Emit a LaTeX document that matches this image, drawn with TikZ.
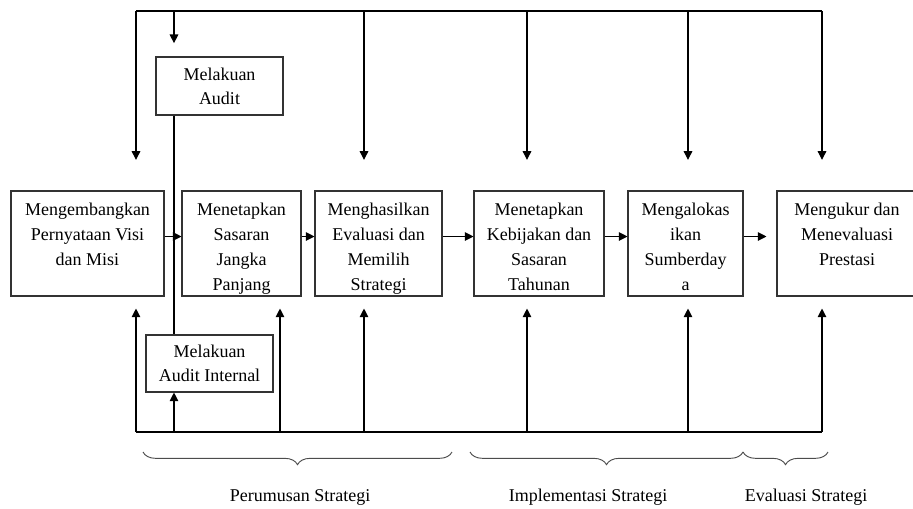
\documentclass[tikz,border=0pt]{standalone}
\usepackage{fontspec}
\setmainfont{Liberation Serif}
\usetikzlibrary{arrows.meta, positioning, decorations.pathreplacing}
\newlength{\pxu}\setlength{\pxu}{0.75pt}
\newcommand{\boxtxt}[3]{\parbox[c][#2\pxu][t]{#1\pxu}{\centering\rule{0pt}{24\pxu}#3}}
\begin{document}
\begin{tikzpicture}[x=0.75pt, y=-0.75pt, line width=0.8pt,
  main/.style = {draw=black!80, inner sep=0pt, font=\fontsize{13.5}{18.75}\selectfont},
  audit/.style = {draw=black!80, align=center, inner sep=0pt, minimum width=95.25pt, minimum height=43.5pt, font=\fontsize{13.5}{18}\selectfont},
  arr/.style = {-{Triangle[length=6.5pt, width=6.5pt]}},
  brc/.style = {draw=black!70, line width=0.7pt, decorate, decoration={brace, mirror, amplitude=9.5pt}},
  lbl/.style = {font=\fontsize{13.5}{16}\selectfont}]
\useasboundingbox (0,0) rectangle (913,508);

\node[main] (1) at (87.5,243.5) {\boxtxt{153}{105}{Mengembangkan\\Pernyataan Visi\\dan Misi}};
\node[main] (2) at (241.5,243.5) {\boxtxt{119}{105}{Menetapkan\\Sasaran\\Jangka\\Panjang}};
\node[main] (3) at (378.5,243.5) {\boxtxt{127}{105}{Menghasilkan\\Evaluasi dan\\Memilih\\Strategi}};
\node[main] (4) at (539,243.5) {\boxtxt{130}{105}{Menetapkan\\Kebijakan dan\\Sasaran\\Tahunan}};
\node[main] (5) at (685.5,243.5) {\boxtxt{115}{105}{Mengalokas\\ikan\\Sumberday\\a}};
\node[main] (6) at (847,243.5) {\boxtxt{140}{105}{Mengukur dan\\Menevaluasi\\Prestasi}};
\node[audit] (7) at (219.5,86) {Melakuan\\Audit};
\node[audit, minimum height=42.75pt] (8) at (209.5,363.5) {Melakuan\\Audit Internal};

\coordinate (t1) at (136,11);
\coordinate (t2) at (174,11);
\coordinate (t3) at (364,11);
\coordinate (t4) at (527,11);
\coordinate (t5) at (688,11);
\coordinate (t6) at (822,11);
\coordinate (b1) at (136,432);
\coordinate (b2) at (174,432);
\coordinate (b3) at (280,432);
\coordinate (b4) at (364,432);
\coordinate (b5) at (527,432);
\coordinate (b6) at (688,432);
\coordinate (b7) at (822,432);

\draw (t1) -- (t6);
\draw (b1) -- (b7);
\draw[arr, shorten >=23pt] (t1) -- (t1 |- 1.north);
\draw[arr, shorten >=10pt] (t2) -- (t2 |- 7.north);
\draw[arr, shorten >=23pt] (t3) -- (t3 |- 3.north);
\draw[arr, shorten >=23pt] (t4) -- (t4 |- 4.north);
\draw[arr, shorten >=23pt] (t5) -- (t5 |- 5.north);
\draw[arr, shorten >=23pt] (t6) -- (t6 |- 6.north);
\draw (7.south -| t2) -- (8.north -| t2);
\draw[arr] (b2) -- (b2 |- 8.south);
\draw[arr, shorten >=9pt] (b1) -- (b1 |- 1.south);
\draw[arr, shorten >=9pt] (b3) -- (b3 |- 2.south);
\draw[arr, shorten >=9pt] (b4) -- (b4 |- 3.south);
\draw[arr, shorten >=9pt] (b5) -- (b5 |- 4.south);
\draw[arr, shorten >=9pt] (b6) -- (b6 |- 5.south);
\draw[arr, shorten >=9pt] (b7) -- (b7 |- 6.south);

\draw[arr] ([yshift=5.25pt]1.east) -- ([yshift=5.25pt]2.west);
\draw[arr] ([yshift=5.25pt]2.east) -- ([yshift=5.25pt]3.west);
\draw[arr] ([yshift=5.25pt]3.east) -- ([yshift=5.25pt]4.west);
\draw[arr] ([yshift=5.25pt]4.east) -- ([yshift=5.25pt]5.west);
\draw[arr, shorten >=7.5pt] ([yshift=5.25pt]5.east) -- ([yshift=5.25pt]6.west);

\draw[brc] (143,452) -- (452,452);
\draw[brc] (470,452) -- (743,452);
\draw[brc] (743,452) -- (828,452);
\node[lbl] (p1) at (300,497) {Perumusan Strategi};
\node[lbl] (p2) at (588,497) {Implementasi Strategi};
\node[lbl] (p3) at (806,497) {Evaluasi Strategi};
\end{tikzpicture}
\end{document}
